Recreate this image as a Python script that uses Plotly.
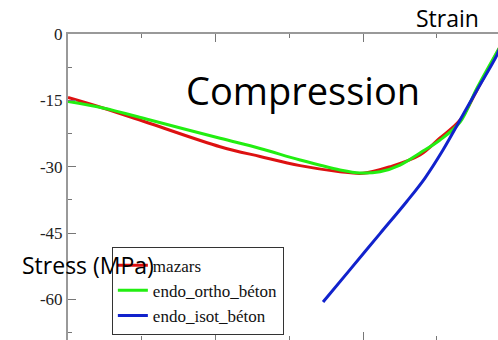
import plotly.graph_objects as go

# Strain (‰ compression) and stress (MPa) for each damage model
mazars_strain = [0.0, 0.237, 0.556, 1.031, 1.302, 1.573, 1.844, 2.0, 2.183, 2.386, 2.522, 2.658, 2.773, 2.93]
mazars_stress = [-14.36, -16.73, -20.23, -25.48, -27.70, -29.76, -31.13, -31.49, -30.0, -27.36, -23.51, -19.44, -12.66, -2.8]

ortho_strain = [0.0, 0.237, 0.556, 1.031, 1.302, 1.573, 1.844, 1.98, 2.115, 2.251, 2.386, 2.522, 2.658, 2.773, 2.93]
ortho_stress = [-15.26, -16.73, -19.44, -23.58, -25.88, -28.49, -30.75, -31.43, -31.13, -29.62, -26.9, -23.97, -19.9, -12.21, -2.8]

isot_strain = [1.729, 1.912, 2.115, 2.298, 2.42, 2.542, 2.658, 2.773, 2.908, 2.93]
isot_stress = [-60.59, -53.27, -45.13, -37.80, -32.56, -26.23, -19.44, -12.66, -4.75, -2.8]

stress_ticks = [0, -15, -30, -45, -60]
stress_tick_text = ["0", "-15", "-30", "-45", "-60"]

serif = "'Liberation Serif', 'Times New Roman', Times, serif"
sans = "'Open Sans', sans-serif"

fig = go.Figure()
fig.add_trace(go.Scatter(x=mazars_strain, y=mazars_stress, mode="lines", name="mazars",
                         line=dict(color="#dd1111", width=3, shape="spline")))
fig.add_trace(go.Scatter(x=ortho_strain, y=ortho_stress, mode="lines", name="endo_ortho_béton",
                         line=dict(color="#22ee11", width=3, shape="spline")))
fig.add_trace(go.Scatter(x=isot_strain, y=isot_stress, mode="lines", name="endo_isot_béton",
                         line=dict(color="#1122cc", width=3, shape="spline")))

axis_grey = "#999999"
tick_grey = "#777777"
fig.update_xaxes(range=[0, 2.915], side="top", showline=True, linecolor=axis_grey, linewidth=2,
                 mirror="ticks", ticks="inside", ticklen=8, tickcolor=tick_grey, tickwidth=1,
                 dtick=1, tick0=0, showticklabels=False, showgrid=False, zeroline=False,
                 minor=dict(ticks="inside", ticklen=4, dtick=0.5, tickcolor=tick_grey, showgrid=False))
fig.update_yaxes(range=[-69.18, 0], showline=True, linecolor=axis_grey, linewidth=2,
                 ticks="inside", ticklen=8, tickcolor=tick_grey, tickwidth=1,
                 tickvals=stress_ticks, ticktext=stress_tick_text,
                 tickfont=dict(family=serif, size=17, color="#222"),
                 showgrid=False, zeroline=False,
                 minor=dict(ticks="inside", ticklen=4, dtick=7.5, tickcolor=tick_grey, showgrid=False))

fig.add_annotation(text="Compression", xref="paper", yref="paper", x=0.27, y=0.818,
                   xanchor="left", yanchor="middle", showarrow=False,
                   font=dict(size=38, family=sans, color="black"))
fig.add_annotation(text="Strain", xref="paper", yref="paper", x=0.805, y=1.052,
                   xanchor="left", yanchor="middle", showarrow=False,
                   font=dict(size=23, family=sans, color="black"))
fig.add_annotation(text="Stress (MPa)", xref="paper", yref="paper", x=-0.1116, y=0.245,
                   xanchor="left", yanchor="middle", showarrow=False,
                   font=dict(size=23, family=sans, color="black"))

fig.update_layout(
    width=498, height=340,
    margin=dict(l=68, r=0, t=34, b=0, autoexpand=False),
    plot_bgcolor="white", paper_bgcolor="white",
    legend=dict(x=0.102, y=0.305, xanchor="left", yanchor="top",
                bgcolor="white", bordercolor="#333", borderwidth=1,
                font=dict(family=serif, size=17, color="#111"),
                itemwidth=30, tracegroupgap=0),
)

fig.write_html("out.html")
